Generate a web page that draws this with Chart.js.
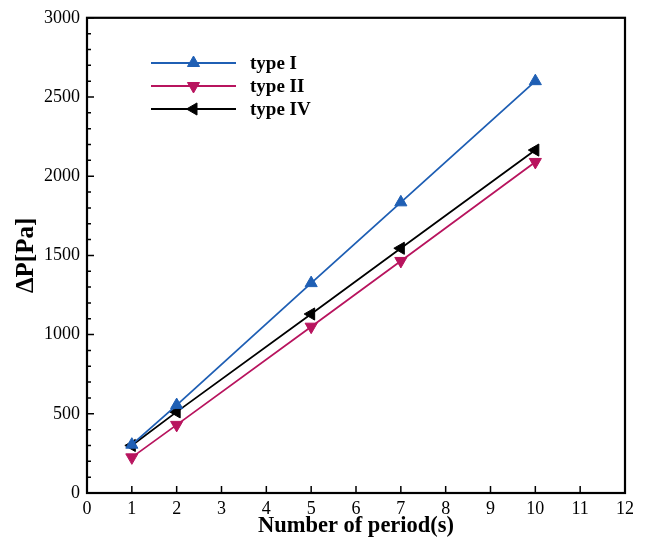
<!DOCTYPE html>
<html>
<head>
<meta charset="utf-8">
<script src="https://cdn.jsdelivr.net/npm/chart.js@4.4.1/dist/chart.umd.min.js"></script>
<style>
  html, body { margin: 0; padding: 0; background: #fff; }
  #wrap { width: 646px; height: 541px; }
</style>
</head>
<body>
<div id="wrap"><canvas id="c" width="646" height="541"></canvas></div>
<script>
// Pressure drop vs. number of periods for three channel types
const periods = [1, 2, 5, 7, 10];
const typeI   = [305, 555, 1325, 1835, 2600];
const typeII  = [225, 430, 1050, 1465, 2090];
const typeIV  = [300, 512, 1130, 1545, 2165];
const seriesNames = ['type I', 'type II', 'type IV'];
const xTicks = [0, 1, 2, 3, 4, 5, 6, 7, 8, 9, 10, 11, 12];
const yTicks = [0, 500, 1000, 1500, 2000, 2500, 3000];

const FONT = '"Liberation Serif", "Times New Roman", serif';
const colors = ['#1f5fb4', '#b8145e', '#000000'];
const rotations = [0, 180, 270];
const values = [typeI, typeII, typeIV];
const pts = (arr) => periods.map((p, i) => ({ x: p, y: arr[i] }));

// Inward tick marks, minor y ticks, the frame and the in-plot legend
const framePlugin = {
  id: 'frame',
  afterDraw(chart) {
    const { ctx, chartArea: a, scales: { x, y } } = chart;
    ctx.save();
    ctx.strokeStyle = '#000';
    ctx.lineWidth = 1.5;
    ctx.beginPath();
    xTicks.forEach(v => {
      const px = x.getPixelForValue(v);
      ctx.moveTo(px, a.bottom); ctx.lineTo(px, a.bottom - 7);
    });
    for (let v = y.min; v <= y.max; v += 100) {
      const py = y.getPixelForValue(v);
      const len = (v % 500 === 0) ? 7 : 4;
      ctx.moveTo(a.left, py); ctx.lineTo(a.left + len, py);
    }
    ctx.stroke();
    ctx.lineWidth = 2.2;
    ctx.strokeRect(a.left, a.top, a.right - a.left, a.bottom - a.top);

    const lx0 = 151, lx1 = 236, tx = 250, ys = [63, 86, 109];
    chart.data.datasets.forEach((ds, i) => {
      const yy = ys[i];
      ctx.strokeStyle = ds.borderColor;
      ctx.fillStyle = ds.backgroundColor;
      ctx.lineWidth = 2.2;
      ctx.beginPath(); ctx.moveTo(lx0, yy); ctx.lineTo(lx1, yy); ctx.stroke();
      ctx.lineWidth = 1;
      Chart.helpers.drawPoint(ctx, {
        pointStyle: 'triangle', radius: ds.pointRadius, rotation: ds.pointRotation, borderWidth: 1
      }, (lx0 + lx1) / 2, yy);
      ctx.fillStyle = '#000';
      ctx.font = 'bold 19px ' + FONT;
      ctx.textBaseline = 'middle';
      ctx.textAlign = 'left';
      ctx.fillText(ds.label, tx, yy + 1);
    });
    ctx.restore();
  }
};

new Chart(document.getElementById('c'), {
  type: 'scatter',
  data: {
    datasets: values.map((v, i) => ({
      label: seriesNames[i],
      data: pts(v),
      showLine: true,
      borderColor: colors[i],
      backgroundColor: colors[i],
      pointBackgroundColor: colors[i],
      pointBorderColor: colors[i],
      borderWidth: 1.8,
      pointBorderWidth: 1,
      pointStyle: 'triangle',
      pointRadius: 7,
      pointHoverRadius: 7,
      pointRotation: rotations[i],
      tension: 0
    }))
  },
  options: {
    responsive: false,
    animation: false,
    events: [],
    layout: { padding: { top: 17, right: 21, left: 9, bottom: 0 } },
    plugins: { legend: { display: false }, tooltip: { enabled: false } },
    scales: {
      x: {
        type: 'linear', min: 0, max: 12,
        afterBuildTicks: s => { s.ticks = xTicks.map(v => ({ value: v })); },
        grid: { display: false, drawTicks: false },
        border: { display: false },
        ticks: { color: '#000', font: { family: FONT, size: 18 }, padding: 5, maxRotation: 0,
                 callback: v => String(v) },
        title: { display: true, text: 'Number of period(s)', color: '#000',
                 font: { family: FONT, size: 22.5, weight: 'bold' }, padding: { top: 0, bottom: 1 } },
        afterFit: s => { s.height = 48; }
      },
      y: {
        type: 'linear', min: 0, max: 3000,
        afterBuildTicks: s => { s.ticks = yTicks.map(v => ({ value: v })); },
        grid: { display: false, drawTicks: false },
        border: { display: false },
        ticks: { color: '#000', font: { family: FONT, size: 18 }, padding: 7,
                 callback: v => String(v) },
        title: { display: true, text: 'ΔP[Pa]', color: '#000',
                 font: { family: FONT, size: 25, weight: 'bold' }, padding: { top: 3, bottom: 3 } },
        afterFit: s => { s.width = 78; }
      }
    }
  },
  plugins: [framePlugin]
});
</script>
</body>
</html>
